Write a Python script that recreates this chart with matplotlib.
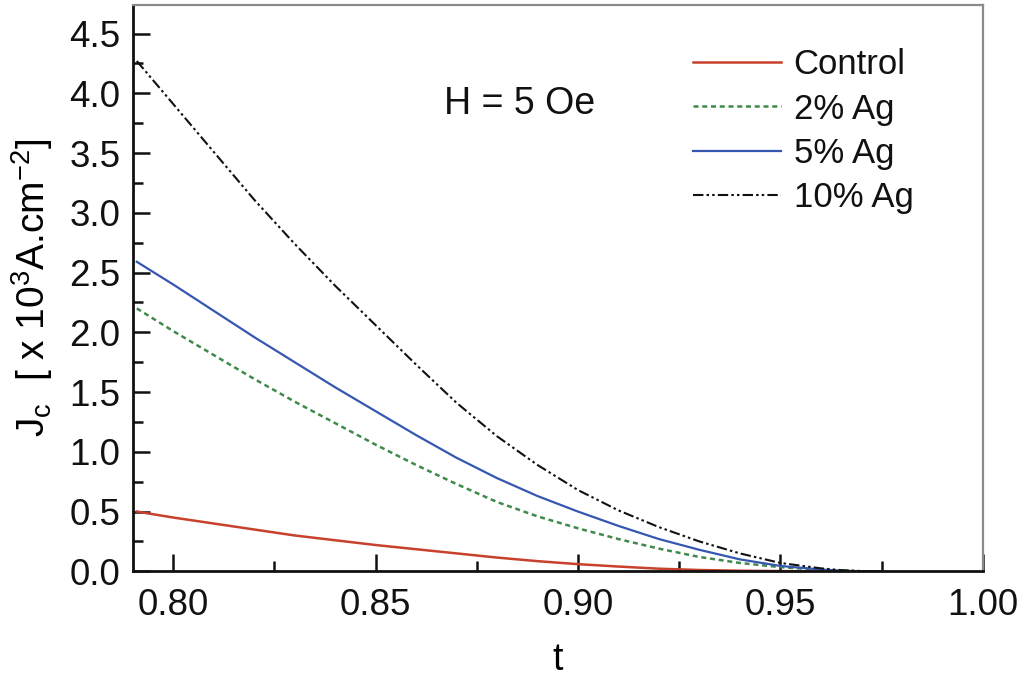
import matplotlib
matplotlib.use("Agg")
import matplotlib.pyplot as plt
from matplotlib.ticker import MultipleLocator

plt.rcParams["font.family"] = ["Liberation Sans", "DejaVu Sans"]
plt.rcParams["mathtext.default"] = "regular"

# Reduced temperature t and critical current density Jc (x10^3 A/cm^2) at H = 5 Oe
t = [0.791, 0.80, 0.81, 0.82, 0.83, 0.84, 0.85, 0.86, 0.87, 0.88, 0.89,
     0.90, 0.91, 0.92, 0.93, 0.94, 0.95, 0.96, 0.965, 0.97, 0.975]
jc_control = [0.50, 0.45, 0.40, 0.35, 0.30, 0.26, 0.22, 0.185, 0.15, 0.115, 0.085,
              0.06, 0.04, 0.022, 0.011, 0.005, 0.002, 0.0, 0.0, 0.0, 0.0]
jc_ag2 = [2.20, 2.01, 1.81, 1.61, 1.42, 1.24, 1.06, 0.89, 0.73, 0.58, 0.46,
          0.36, 0.27, 0.19, 0.12, 0.07, 0.035, 0.012, 0.004, 0.0, 0.0]
jc_ag5 = [2.59, 2.40, 2.18, 1.96, 1.75, 1.54, 1.34, 1.14, 0.95, 0.78, 0.63,
          0.50, 0.38, 0.27, 0.18, 0.10, 0.045, 0.015, 0.005, 0.0, 0.0]
jc_ag10 = [4.27, 3.91, 3.51, 3.11, 2.74, 2.39, 2.06, 1.73, 1.41, 1.13, 0.89,
           0.68, 0.51, 0.37, 0.25, 0.15, 0.07, 0.025, 0.01, 0.003, 0.0]

labels = ["Control", "2% Ag", "5% Ag", "10% Ag"]
xticks = [0.80, 0.85, 0.90, 0.95, 1.00]
yticks = [0.0, 0.5, 1.0, 1.5, 2.0, 2.5, 3.0, 3.5, 4.0, 4.5]

fig = plt.figure(figsize=(10.29, 6.90), dpi=100)
ax = fig.add_axes([0.129, 0.172, 0.826, 0.821])

ax.plot(t, jc_control, color="#c8412c", lw=1.8, label=labels[0])
ax.plot(t, jc_ag2, color="#3f8a4a", lw=1.8, linestyle=(0, (2.0, 1.5)), label=labels[1])
ax.plot(t, jc_ag5, color="#3557b0", lw=1.6, label=labels[2])
ax.plot(t, jc_ag10, color="#111111", lw=1.5,
        linestyle=(0, (5, 1.5, 1.2, 1.5, 1.2, 1.5)), label=labels[3])

ax.set_xlim(0.79, 1.00)
ax.set_ylim(0.0, 4.74)
ax.set_xticks(xticks)
ax.set_xticklabels([f"{v:.2f}" for v in xticks])
ax.set_yticks(yticks)
ax.set_yticklabels([f"{v:.1f}" for v in yticks])
ax.xaxis.set_minor_locator(MultipleLocator(0.025))
ax.yaxis.set_minor_locator(MultipleLocator(0.25))

ax.tick_params(which="both", direction="in", top=False, right=False,
               labelsize=26.5, width=1.8, colors="#111111")
ax.tick_params(which="major", length=12)
ax.tick_params(which="minor", length=7)
ax.tick_params(axis="x", pad=12)
ax.tick_params(axis="y", pad=9)

for side in ("left", "bottom"):
    ax.spines[side].set_linewidth(2.0)
    ax.spines[side].set_color("#111111")
for side in ("top", "right"):
    ax.spines[side].set_linewidth(1.6)
    ax.spines[side].set_color("#8a8a8a")

ax.set_xlabel("t", fontsize=27, labelpad=14)
ax.set_ylabel("J$_c$  [ x 10$^3$A.cm$^{-2}$]", fontsize=28, labelpad=10)

ax.text(0.455, 0.825, "H = 5 Oe", transform=ax.transAxes, fontsize=27,
        ha="center", va="center", color="#111111")

leg = ax.legend(loc="upper left", bbox_to_anchor=(0.659, 0.923), frameon=False,
                fontsize=25, handlelength=2.55, handletextpad=0.35,
                labelspacing=0.32, borderaxespad=0, borderpad=0)
for txt in leg.get_texts():
    txt.set_color("#111111")

fig.savefig("out.png", dpi=100, facecolor="white")
